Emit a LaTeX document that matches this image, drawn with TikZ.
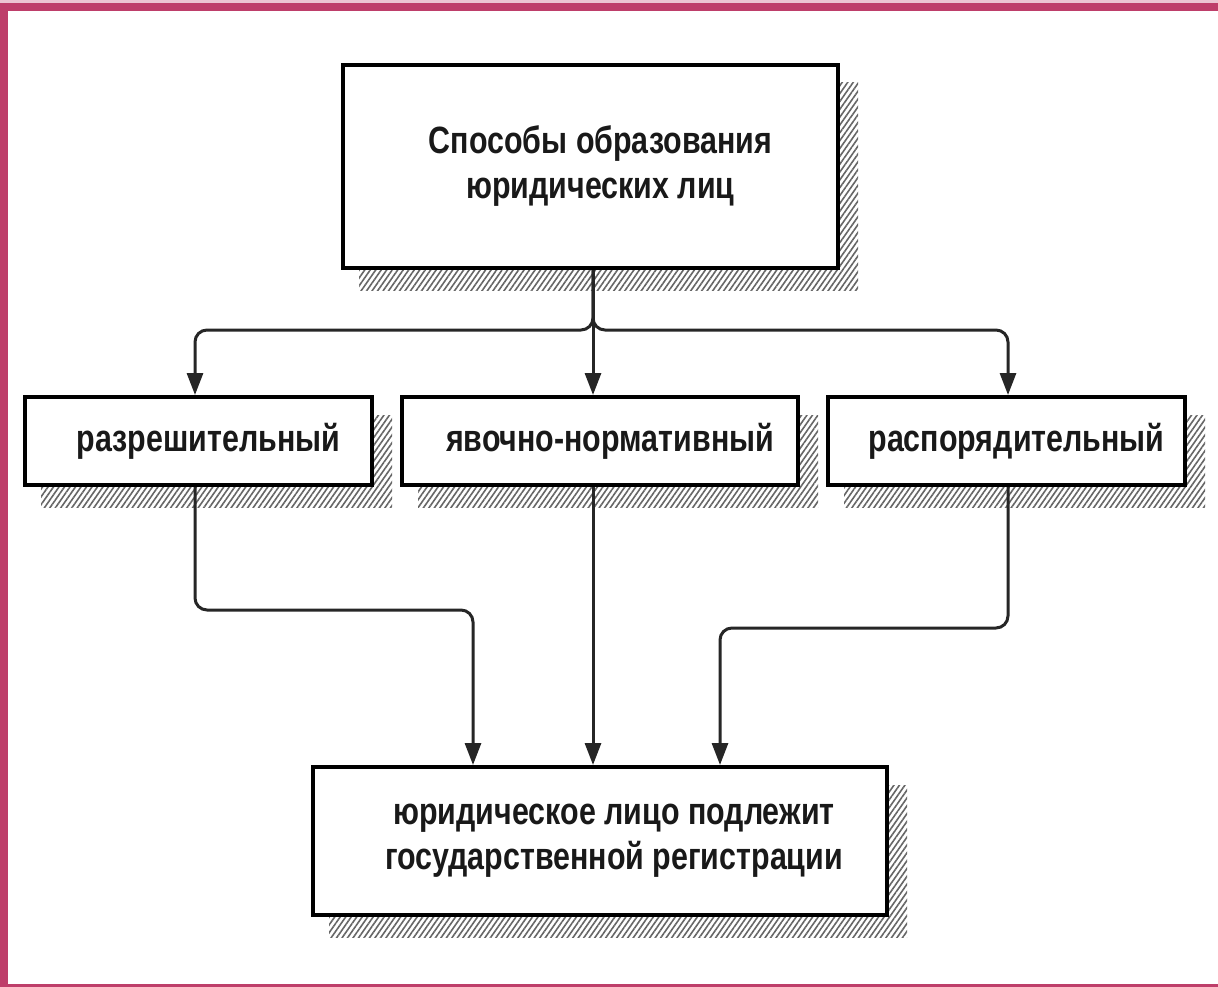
\documentclass[tikz,border=0pt]{standalone}
\usepackage{fontspec}
\newfontfamily\lab{Liberation Sans}[FakeStretch=0.8]
\usetikzlibrary{arrows.meta,patterns.meta,backgrounds}
\definecolor{frame}{RGB}{190,62,106}
\definecolor{ink}{RGB}{25,25,25}
\newcommand{\sh}{\hspace*{20pt}}
\tikzset{
  box/.style={draw=black, line width=4pt, fill=white, inner sep=0pt, align=center,
    font=\lab\bfseries\fontsize{38}{45}\selectfont, text=ink},
  conn/.style={draw=black!85, line width=3pt, rounded corners=12pt,
    -{Triangle[length=22pt,width=16pt]}},
  shade/.style={pattern={Lines[angle=55,distance=4.5pt,line width=1.6pt]}, pattern color=black!60}
}
\begin{document}
\begin{tikzpicture}[x=1pt,y=-1pt]
\useasboundingbox (0,0) rectangle (1218,987);

% boxes
\node[box, minimum width=495pt, minimum height=203pt] (top) at (590.5,166.5)
  {\sh Способы образования\\\sh юридических лиц};
\node[box, minimum width=347pt, minimum height=88pt] (left) at (198.5,441) {\sh разрешительный};
\node[box, minimum width=396pt, minimum height=88pt] (mid) at (600,441) {\sh явочно-нормативный};
\node[box, minimum width=357pt, minimum height=88pt] (right) at (1006.5,441) {\sh распорядительный};
\node[box, minimum width=574pt, minimum height=148pt] (bot) at (600,841)
  {\hspace*{28pt}юридическое лицо подлежит\\\hspace*{28pt}государственной регистрации};

% background, frame and shadows
\begin{scope}[on background layer]
  \fill[white] (0,0) rectangle (1218,987);
  \fill[frame!30] (0,0) rectangle (1218,3);
  \fill[frame] (0,3) rectangle (1218,11);
  \fill[frame] (0,3) rectangle (8,987);
  \fill[frame] (0,984) rectangle (1218,987);
  \foreach \n in {top,left,mid,right,bot}{
    \fill[shade] ([shift={(18,20)}]\n.south west) rectangle ([shift={(18,20)}]\n.north east);
  }
\end{scope}

% column coordinates
\coordinate (xa) at (195,0);
\coordinate (xm) at (593,0);
\coordinate (xb) at (1008,0);
\coordinate (xc) at (473,0);
\coordinate (xd) at (720,0);
\coordinate (ysplit) at (0,330);
\coordinate (yl) at (0,610);
\coordinate (yr) at (0,628);

% top connectors
\draw[conn] (top.south -| xm) -- (mid.north -| xm);
\draw[conn] (top.south -| xm) -- (xm |- ysplit) -- (xa |- ysplit) -- (left.north -| xa);
\draw[conn] (top.south -| xm) -- (xm |- ysplit) -- (xb |- ysplit) -- (right.north -| xb);

% bottom connectors
\draw[conn] (left.south -| xa) -- (xa |- yl) -- (xc |- yl) -- (bot.north -| xc);
\draw[conn] (mid.south -| xm) -- (bot.north -| xm);
\draw[conn] (right.south -| xb) -- (xb |- yr) -- (xd |- yr) -- (bot.north -| xd);
\end{tikzpicture}
\end{document}
